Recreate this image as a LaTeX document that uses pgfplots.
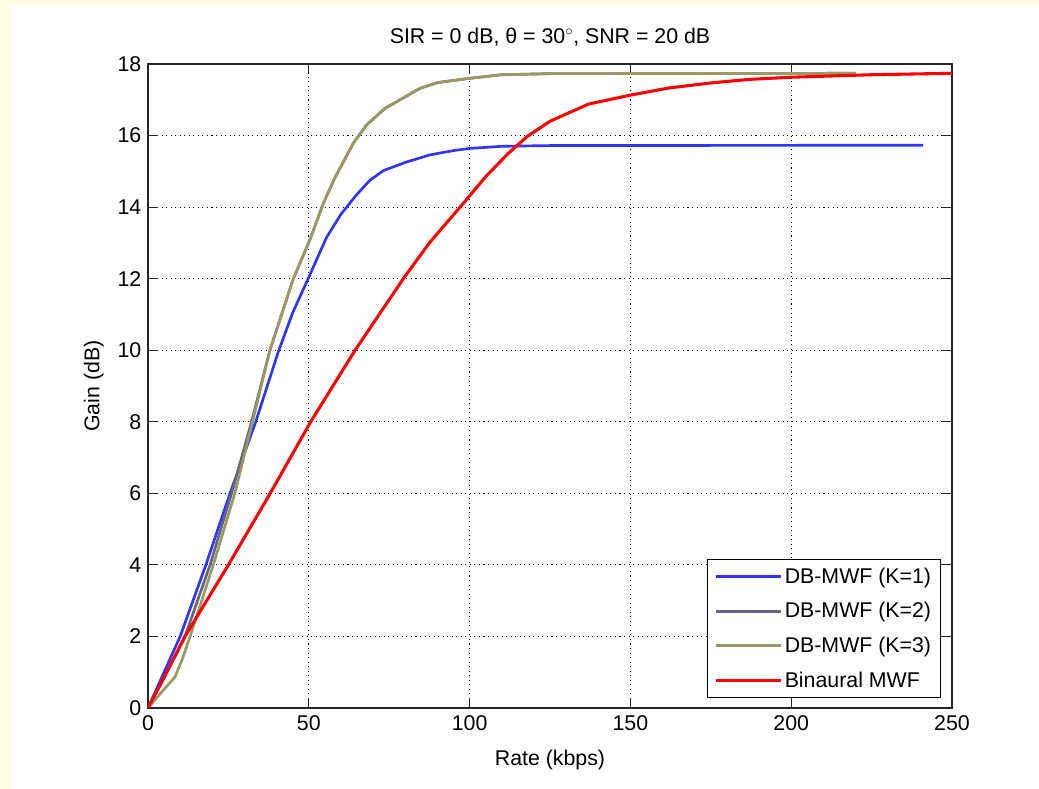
\documentclass[border=0pt]{standalone}
\usepackage{fontspec}
\setmainfont{Liberation Sans}
\usepackage{pgfplots}
\pgfplotsset{compat=1.18}
\definecolor{bgyellow}{RGB}{255,254,228}
\definecolor{kone}{RGB}{51,51,255}
\definecolor{ktwo}{RGB}{102,102,128}
\definecolor{kthree}{RGB}{153,153,102}
\definecolor{axgray}{RGB}{38,38,38}
\begin{document}
\begin{tikzpicture}
\path[use as bounding box] (-111pt,-60.75pt) rectangle (668.25pt,531pt);
\fill[bgyellow] (-111pt,-60.75pt) rectangle (668.25pt,531pt);
\fill[white] (-102.75pt,-60.75pt) rectangle (668.25pt,527.25pt);
\begin{axis}[
  at={(0,0)}, anchor=south west,
  scale only axis, width=603pt, height=483pt,
  xmin=0, xmax=250, ymin=0, ymax=18,
  xtick={0,50,...,250}, ytick={0,2,...,18},
  font=\fontsize{16}{19}\selectfont,
  /pgf/number format/assume math mode=true,
  xticklabel style={yshift=-2.5pt},
  yticklabel style={xshift=-1.5pt},
  tick align=inside, major tick length=7.5pt,
  tick style={axgray, line width=0.9pt},
  axis line style={axgray, line width=1.1pt},
  grid=major,
  major grid style={black, line width=0.8pt, dash pattern=on 0.8pt off 2.6pt},
  title={SIR = 0 dB, θ = 30$^{\circ}$, SNR = 20 dB},
  title style={at={(axis description cs:0.5,1.029)}, anchor=center},
  xlabel={Rate (kbps)},
  ylabel={Gain (dB)},
  xlabel style={at={(axis description cs:0.5,-0.0807)}, anchor=center},
  ylabel style={at={(axis description cs:-0.0672,0.5)}, anchor=center},
  legend cell align=left,
  legend style={at={(0.9863,0.0155)}, anchor=south east, draw=black, line width=0.8pt,
    font=\fontsize{16}{19}\selectfont, row sep=9pt, inner xsep=5pt, inner ysep=4pt},
  legend image code/.code={\draw[#1, line width=2.2pt] (0pt,0pt) -- (48.75pt,0pt);},
]
\addplot[kone, line width=2pt] coordinates {
(0,0) (5,1.0) (10,2.0) (18,4.0) (25.5,6.0) (33.5,8.0) (40.5,9.95) (45,11.05)
(49.8,12.0) (55.5,13.15) (60,13.8) (64.9,14.35) (69,14.75) (73.2,15.02) (80,15.25)
(87.7,15.46) (95,15.58) (100,15.64) (110,15.7) (125,15.72) (241,15.73)};
\addlegendentry{DB-MWF (K=1)}
\addplot[ktwo, line width=2pt] coordinates {
(0,0) (5,0.85) (11.5,2.0) (19.3,4.0) (26,6.0) (32.2,8.0) (37.9,10.0)
(45.2,12.0) (50.4,13.1) (54.5,14.1) (58,14.8) (63.8,15.78) (68,16.3) (73.7,16.76)
(78.4,17.0) (84.6,17.32) (90,17.48) (100,17.6) (110,17.7) (125,17.73) (220,17.74)};
\addlegendentry{DB-MWF (K=2)}
\addplot[kthree, line width=2pt] coordinates {
(0,0) (4,0.42) (8.4,0.87) (10.8,1.4) (13.1,2.0) (20.3,4.0) (27,6.0) (32.5,8.0)
(37.9,10.0) (45.2,12.0) (50.4,13.1) (54.5,14.1) (58,14.8) (63.8,15.78)
(68,16.3) (73.7,16.76) (78.4,17.0) (84.6,17.32) (90,17.48) (100,17.6) (110,17.7)
(125,17.73) (220,17.74)};
\addlegendentry{DB-MWF (K=3)}
\addplot[red, line width=2.3pt] coordinates {
(0,0) (5,0.85) (11.5,2.0) (25,4.0) (38,6.0) (50.6,8.0) (64.4,10.0) (79.4,12.0)
(87.5,13.0) (98,14.1) (105,14.85) (112,15.5) (118,15.98) (125,16.4) (137,16.88)
(150,17.13) (162,17.33) (175,17.47) (187,17.57) (200,17.63) (225,17.7) (250,17.74)};
\addlegendentry{Binaural MWF}
\end{axis}
\end{tikzpicture}
\end{document}
